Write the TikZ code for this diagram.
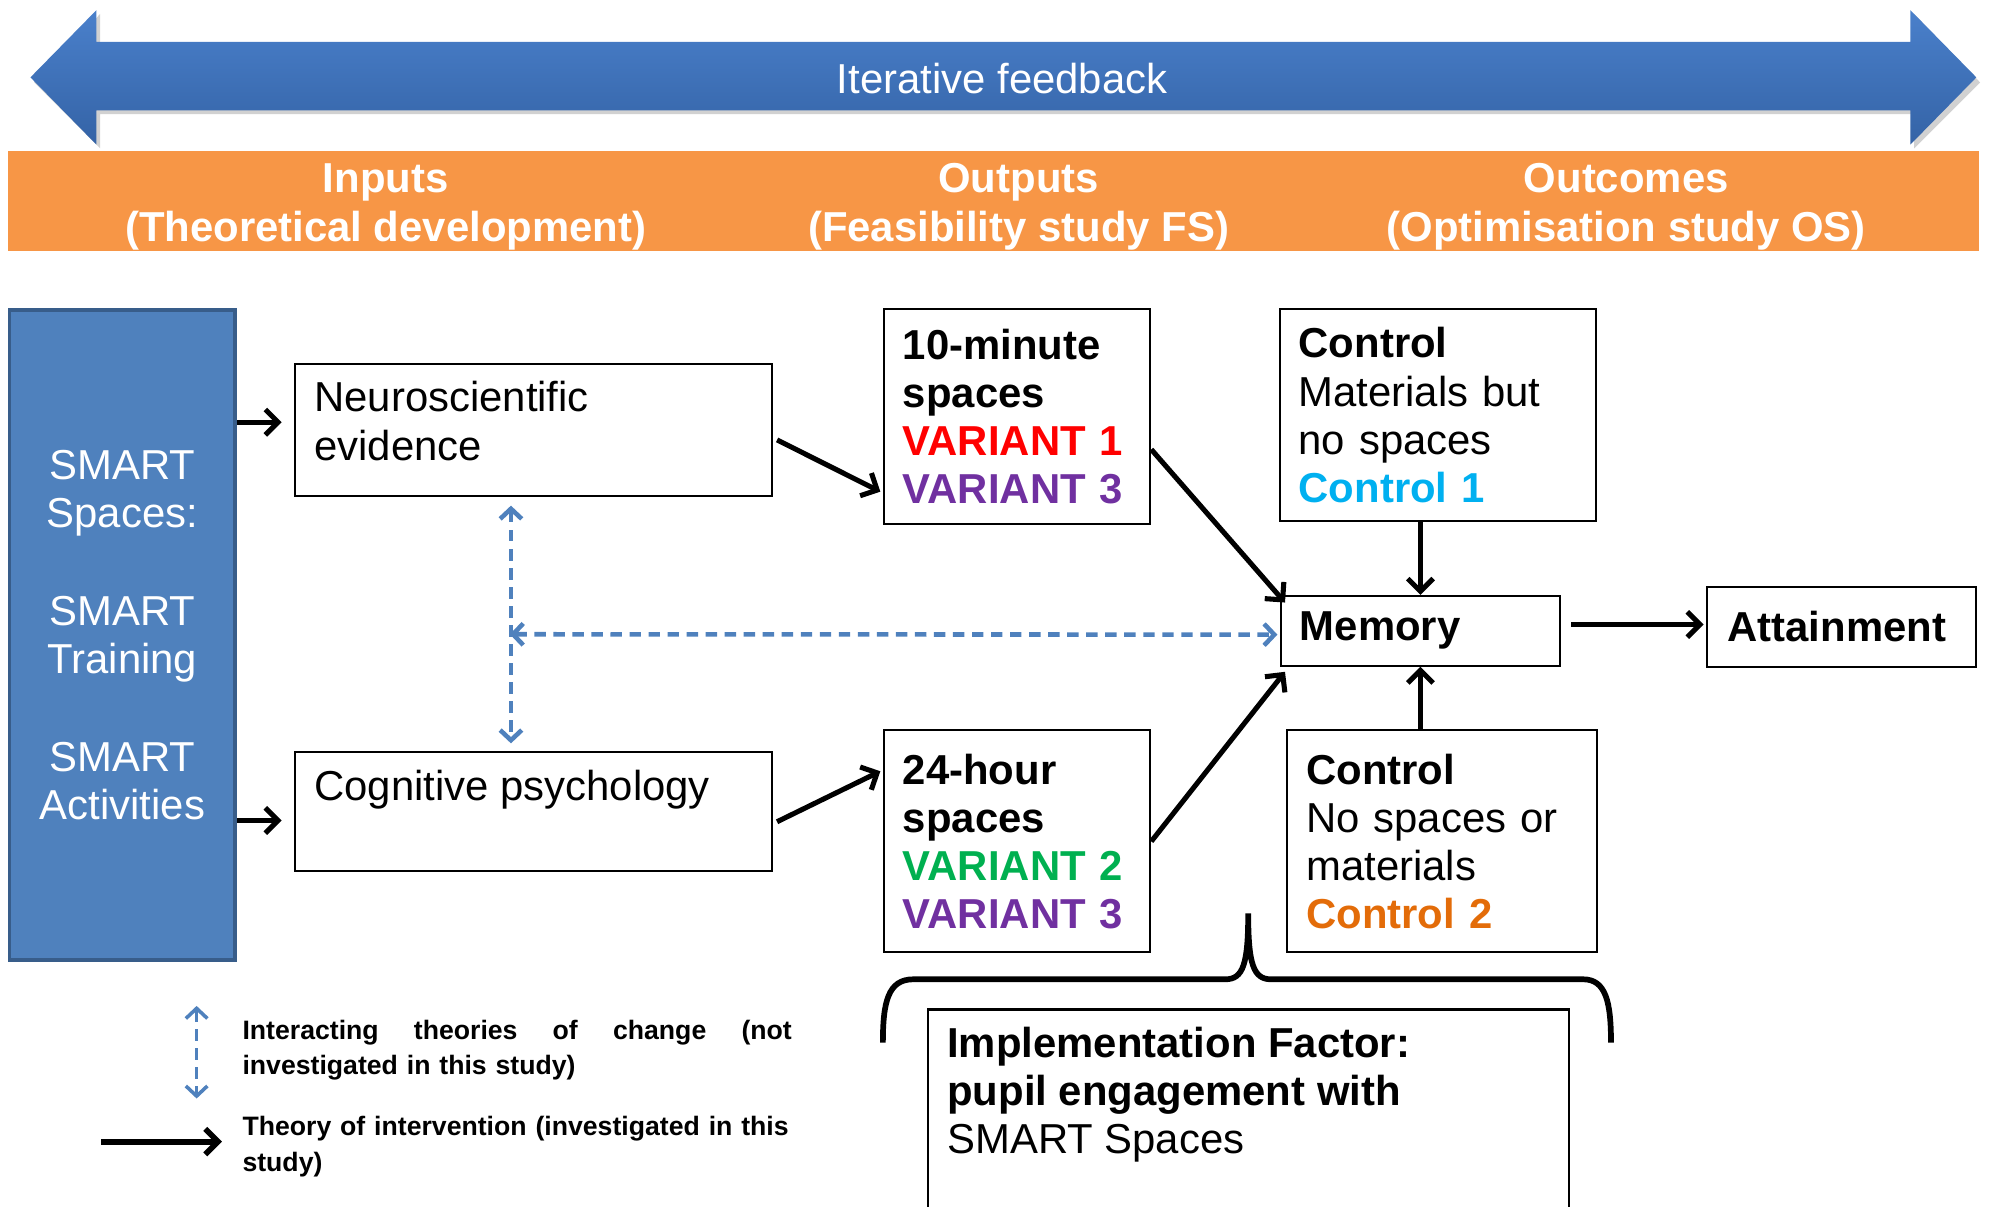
\documentclass[tikz,border=0pt]{standalone}
\usepackage{fontspec}
\setmainfont{Liberation Sans}
\usepackage{xcolor}
\usetikzlibrary{calc,arrows.meta}

\definecolor{bandorange}{HTML}{F79646}
\definecolor{smartblue}{HTML}{4F81BD}
\definecolor{smartedge}{HTML}{385D8A}
\definecolor{arrowtop}{HTML}{4A80CB}
\definecolor{arrowbot}{HTML}{3463A6}
\definecolor{dashblue}{HTML}{4F81BD}
\definecolor{varred}{HTML}{FF0000}
\definecolor{vargreen}{HTML}{00B050}
\definecolor{varpurple}{HTML}{7030A0}
\definecolor{ctrlcyan}{HTML}{00B0F0}
\definecolor{ctrlorange}{HTML}{E36C09}

\begin{document}
\begin{tikzpicture}[x=1pt, y=-1pt,
  box/.style={draw, line width=1.6pt, anchor=north west, align=left, inner xsep=15pt, inner ysep=0pt, font=\fontsize{33}{38}\selectfont},
  boldbox/.style={box, font=\fontsize{33}{38}\selectfont\bfseries},
  flow/.style={line width=4pt, -{Straight Barb[length=10pt,width=20pt]}},
  theory/.style={dashblue, line width=3.6pt, dash pattern=on 9pt off 6pt, {Straight Barb[length=8pt,width=17pt]}-{Straight Barb[length=8pt,width=17pt]}},
  header/.style={text=white, align=center, font=\fontsize{33}{39}\selectfont\bfseries},
  keytext/.style={anchor=west, align=left, inner sep=0pt, font=\fontsize{21}{28}\selectfont\bfseries}]
  \useasboundingbox (0,0) rectangle (1568,951);
  \clip (0,0) rectangle (1568,951);

  % iterative feedback arrow
  \fill[black!18] (27,65) -- (79,11) -- (79,36) -- (1509,36) -- (1509,11) -- (1561,65) -- (1509,117) -- (1509,90) -- (79,90) -- (79,117) -- cycle;
  \shade[top color=arrowtop, bottom color=arrowbot] (24,61) -- (76,8) -- (76,33) -- (1506,33) -- (1506,8) -- (1558,61) -- (1506,114) -- (1506,87) -- (76,87) -- (76,114) -- cycle;
  \node[text=white, font=\fontsize{33}{38}\selectfont] (feedback) at (790,62) {Iterative feedback};

  % stages
  \fill[bandorange] (6,119) rectangle (1560,198);
  \node[header] (inputs) at (304,163) {Inputs\\(Theoretical development)};
  \node[header] (outputs) at (803,163) {Outputs\\(Feasibility study FS)};
  \node[header] (outcomes) at (1282,163) {Outcomes\\(Optimisation study OS)};

  % boxes
  \node[box, fill=smartblue, draw=smartedge, line width=3pt, text=white, align=center, text width=148pt, minimum height=512pt] (smart) at (6,243) {SMART\\Spaces:\\[39pt]SMART\\Training\\[39pt]SMART\\Activities};
  \node[box, inner ysep=14pt] (neuro) at (232,286) {\parbox[t][76pt][t]{346pt}{Neuroscientific\\evidence}};
  \node[box, inner ysep=14pt] (cogn) at (232,592) {\parbox[t][66pt][t]{346pt}{Cognitive psychology}};
  \node[boldbox, text width=180pt, minimum height=169pt] (tenmin) at (696,243) {10-minute\\spaces\\\textcolor{varred}{VARIANT 1}\\\textcolor{varpurple}{VARIANT 3}};
  \node[boldbox, text width=180pt, minimum height=175pt] (dayvar) at (696,575) {24-hour\\spaces\\\textcolor{vargreen}{VARIANT 2}\\\textcolor{varpurple}{VARIANT 3}};
  \node[box, text width=219pt, minimum height=167pt] (ctrla) at (1008,243) {\textbf{Control}\\Materials but\\no spaces\\\textcolor{ctrlcyan}{\textbf{Control 1}}};
  \node[box, text width=214pt, minimum height=175pt] (ctrlb) at (1014,575) {\textbf{Control}\\No spaces or\\materials\\\textcolor{ctrlorange}{\textbf{Control 2}}};
  \node[boldbox, text width=190pt, minimum height=55pt] (memory) at (1009,469) {Memory};
  \node[boldbox, inner xsep=16pt, text width=180pt, minimum height=63pt] (attain) at (1345,462) {Attainment};
  \node[box, inner ysep=14pt] (impl) at (731,795) {\parbox[t][170pt][t]{475pt}{\textbf{Implementation Factor:}\\\textbf{pupil engagement with}\\SMART Spaces}};

  % theory of intervention
  \draw[flow] ($(smart.east |- neuro.west)+(0,-6)$) -- ($(neuro.west)+(-10,-6)$);
  \draw[flow] ($(smart.east |- cogn.west)+(0,7)$) -- ($(cogn.west)+(-10,7)$);
  \draw[flow] ($(neuro.east)+(3,8)$) -- ($(tenmin.south west)+(-2,-26)$);
  \draw[flow] ($(cogn.east)+(3,8)$) -- ($(dayvar.north west)+(-2,33)$);
  \draw[flow] ($(tenmin.east)+(0,26)$) -- ($(memory.north west)+(4,6)$);
  \draw[flow] (dayvar.east) -- ($(memory.south west)+(4,4)$);
  \draw[flow] (ctrla.south -| memory.north) -- (memory.north);
  \draw[flow] (ctrlb.north -| memory.south) -- (memory.south);
  \draw[flow] ($(memory.east)+(8,-5)$) -- ($(attain.west)+(-2,-2)$);

  % interacting theories
  \coordinate (hub) at (402,500);
  \draw[theory] ($(neuro.south)+(-18,7)$) -- ($(cogn.north)+(-18,-6)$);
  \draw[theory] (hub) -- ($(memory.west)+(-2,3)$);

  % brace
  \draw[line width=4.5pt] (696,822) .. controls (696,790) and (700,772) .. (720,772) -- (966,772) .. controls (980,772) and (984,760) .. (984,720) .. controls (984,760) and (988,772) .. (1002,772) -- (1248,772) .. controls (1266,772) and (1270,790) .. (1270,822);

  % key
  \coordinate (dashtop) at (155,793);
  \coordinate (dashbot) at (155,866);
  \draw[theory, line width=2.8pt, dash pattern=on 9pt off 6pt] (dashtop) -- (dashbot);
  \node[keytext, text width=433pt] (interact) at (191,828) {Interacting\hfill theories\hfill of\hfill change\hfill (not\\investigated in this study)};
  \coordinate (solidstart) at (80,900);
  \coordinate (solidend) at (175,900);
  \draw[flow, line width=4.5pt] (solidstart) -- (solidend);
  \node[keytext, text width=450pt] (theoryint) at (191,904) {Theory of intervention (investigated in this\\study)};
\end{tikzpicture}
\end{document}
